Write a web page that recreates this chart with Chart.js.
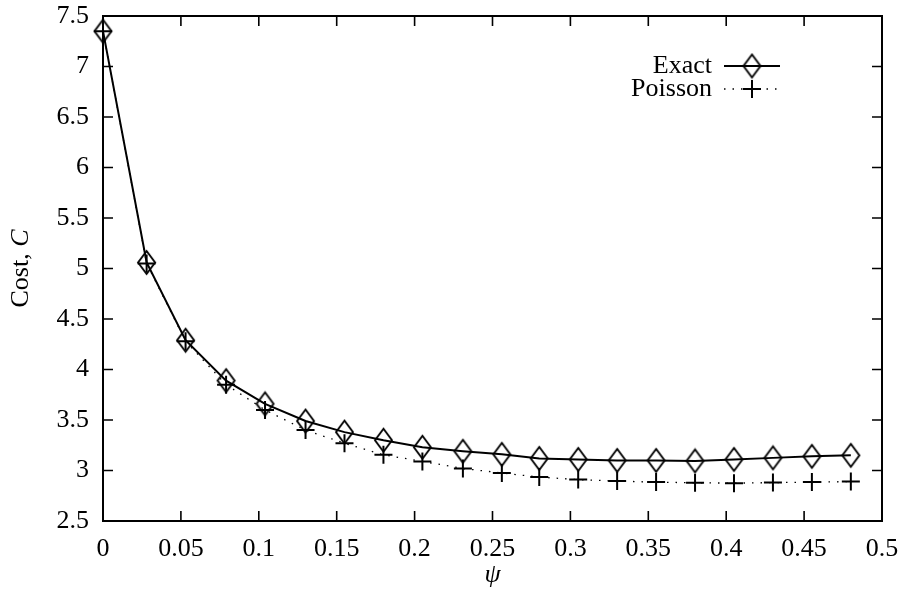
<!DOCTYPE html>
<html>
<head>
<meta charset="utf-8">
<script src="https://cdn.jsdelivr.net/npm/chart.js@4.4.1/dist/chart.umd.min.js"></script>
<style>
  html, body { margin: 0; padding: 0; background: #fff; }
</style>
</head>
<body>
<canvas id="graph1" width="904" height="591"></canvas>
<script>
// psi values and cost for the two models
const psi = [0, 0.028, 0.053, 0.079, 0.104, 0.13, 0.155, 0.18, 0.205, 0.231,
             0.256, 0.28, 0.305, 0.33, 0.355, 0.38, 0.405, 0.43, 0.455, 0.48];
const exact = [7.35, 5.06, 4.29, 3.89, 3.66, 3.49, 3.38, 3.30, 3.23, 3.19,
               3.16, 3.12, 3.11, 3.10, 3.10, 3.095, 3.11, 3.125, 3.14, 3.15];
const poisson = [7.35, 5.05, 4.28, 3.85, 3.60, 3.40, 3.27, 3.155, 3.09, 3.02,
                 2.975, 2.935, 2.91, 2.895, 2.885, 2.878, 2.875, 2.88, 2.885, 2.89];
const xTicks = [0, 0.05, 0.1, 0.15, 0.2, 0.25, 0.3, 0.35, 0.4, 0.45, 0.5];
const yTicks = [2.5, 3, 3.5, 4, 4.5, 5, 5.5, 6, 6.5, 7, 7.5];

const FONT = '"Liberation Serif", "Times New Roman", serif';

// hollow diamond, a bit taller than wide
function diamond() {
  const c = document.createElement('canvas');
  c.width = 21; c.height = 27;
  const g = c.getContext('2d');
  g.strokeStyle = '#000';
  g.lineWidth = 1.9;
  g.beginPath();
  g.moveTo(10.5, 2);
  g.lineTo(19, 13.5);
  g.lineTo(10.5, 25);
  g.lineTo(2, 13.5);
  g.closePath();
  g.stroke();
  return c;
}
const diamondImg = diamond();

const pts = (ys) => psi.map((x, i) => ({ x: x, y: ys[i] }));

// box, inward ticks on all four sides, legend and y title
const frame = {
  id: 'frame',
  beforeDatasetsDraw(chart) {
    const { ctx, chartArea: a, scales } = chart;
    ctx.save();
    ctx.strokeStyle = '#000';
    ctx.lineWidth = 2;
    ctx.strokeRect(a.left, a.top, a.right - a.left, a.bottom - a.top);
    ctx.lineWidth = 1.6;
    ctx.beginPath();
    xTicks.forEach(v => {
      const x = scales.x.getPixelForValue(v);
      ctx.moveTo(x, a.bottom); ctx.lineTo(x, a.bottom - 10);
      ctx.moveTo(x, a.top); ctx.lineTo(x, a.top + 10);
    });
    yTicks.forEach(v => {
      const y = scales.y.getPixelForValue(v);
      ctx.moveTo(a.left, y); ctx.lineTo(a.left + 10, y);
      ctx.moveTo(a.right, y); ctx.lineTo(a.right - 10, y);
    });
    ctx.stroke();
    ctx.restore();
  },
  afterDraw(chart) {
    const { ctx, chartArea: a } = chart;
    ctx.save();
    // legend
    ctx.fillStyle = '#000';
    ctx.font = '26px ' + FONT;
    ctx.textAlign = 'right';
    ctx.textBaseline = 'middle';
    const lx = 712, l0 = 724, l1 = 780, mid = 752;
    ctx.fillText('Exact', lx, 66);
    ctx.fillText('Poisson', lx, 89);
    ctx.strokeStyle = '#000';
    ctx.lineWidth = 2;
    ctx.beginPath(); ctx.moveTo(l0, 66); ctx.lineTo(l1, 66); ctx.stroke();
    ctx.drawImage(diamondImg, mid - 10.5, 66 - 13.5);
    ctx.lineWidth = 1.3;
    ctx.setLineDash([1.5, 7]);
    ctx.beginPath(); ctx.moveTo(l0, 89); ctx.lineTo(l1, 89); ctx.stroke();
    ctx.setLineDash([]);
    ctx.lineWidth = 2;
    ctx.beginPath();
    ctx.moveTo(mid - 9, 89); ctx.lineTo(mid + 9, 89);
    ctx.moveTo(mid, 80); ctx.lineTo(mid, 98);
    ctx.stroke();

    // y title: "Cost, C" with italic C
    ctx.translate(21, (a.top + a.bottom) / 2);
    ctx.rotate(-Math.PI / 2);
    ctx.textAlign = 'left';
    const roman = '26px ' + FONT, ital = 'italic 26px ' + FONT;
    ctx.font = roman;
    const w1 = ctx.measureText('Cost, ').width;
    ctx.font = ital;
    const w2 = ctx.measureText('C').width;
    const sx = -(w1 + w2) / 2;
    ctx.font = roman;
    ctx.fillText('Cost, ', sx, 0);
    ctx.font = ital;
    ctx.fillText('C', sx + w1, 0);
    ctx.restore();
  }
};

new Chart(document.querySelector('#graph1'), {
  type: 'scatter',
  data: {
    datasets: [
      {
        label: 'Exact',
        data: pts(exact),
        showLine: true,
        borderColor: '#000',
        borderWidth: 2,
        pointStyle: diamondImg,
        pointRadius: 10,
        clip: false
      },
      {
        label: 'Poisson',
        data: pts(poisson),
        showLine: true,
        borderColor: '#000',
        borderWidth: 1.3,
        borderDash: [1.5, 7],
        pointStyle: 'cross',
        pointRadius: 9,
        pointBorderWidth: 2,
        pointBorderColor: '#000',
        clip: false
      }
    ]
  },
  options: {
    responsive: false,
    animation: false,
    devicePixelRatio: 1,
    layout: { padding: { left: 0, top: 16, right: 22, bottom: 0 } },
    plugins: {
      legend: { display: false },
      tooltip: { enabled: false }
    },
    scales: {
      x: {
        type: 'linear',
        min: 0,
        max: 0.5,
        afterBuildTicks: s => { s.ticks = xTicks.map(v => ({ value: v })); },
        afterFit: s => {
          s.height = 70;
          s.paddingLeft = 0;
          s.paddingRight = 0;
        },
        grid: { display: false, drawTicks: false },
        border: { display: false },
        ticks: {
          padding: 13,
          color: '#000',
          maxRotation: 0,
          font: { family: FONT, size: 26 },
          callback: v => String(v)
        },
        title: {
          display: true,
          text: 'ψ',
          color: '#000',
          padding: { top: 0, bottom: 0 },
          font: { family: FONT, size: 26, style: 'italic' }
        }
      },
      y: {
        min: 2.5,
        max: 7.5,
        afterBuildTicks: s => { s.ticks = yTicks.map(v => ({ value: v })); },
        afterFit: s => {
          s.width = 103;
          s.paddingTop = 0;
          s.paddingBottom = 0;
        },
        grid: { display: false, drawTicks: false },
        border: { display: false },
        ticks: {
          padding: 14,
          color: '#000',
          font: { family: FONT, size: 26 },
          callback: v => String(v)
        }
      }
    }
  },
  plugins: [frame]
});
</script>
</body>
</html>
